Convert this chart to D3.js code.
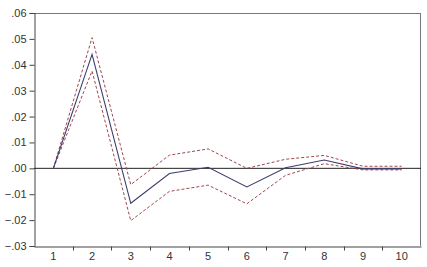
<!DOCTYPE html>
<html>
<head>
<meta charset="utf-8">
<script src="https://cdn.jsdelivr.net/npm/d3@7"></script>
<style>
  body { margin: 0; background: #fff; }
  .tick text { font-family: Arial, "Liberation Sans", sans-serif; font-size: 11px; fill: #333; }
</style>
</head>
<body>
<div class="chart"></div>
<script>
// periods and impulse response with +/- 2 s.e. bands
const periods = [1, 2, 3, 4, 5, 6, 7, 8, 9, 10];
const response = [0, 0.044, -0.0135, -0.002, 0.0004, -0.0072, 0.0002, 0.0032, -0.0002, -0.0002];
const upper = [0, 0.0505, -0.0063, 0.0051, 0.0075, 0, 0.0035, 0.005, 0.0008, 0.0008];
const lower = [0, 0.0376, -0.0202, -0.0089, -0.0065, -0.0137, -0.0027, 0.0018, -0.0006, -0.0006];
const yTicks = [-0.03, -0.02, -0.01, 0, 0.01, 0.02, 0.03, 0.04, 0.05, 0.06];

const W = 427, H = 267;
const margin = { top: 13, right: 6, bottom: 21, left: 34 };
const width = W - margin.left - margin.right;
const height = H - margin.top - margin.bottom;

const svg = d3.select('.chart')
	.append('svg')
	.attr('width', W)
	.attr('height', H)
	.append('g')
	.attr('transform', `translate(${margin.left}, ${margin.top})`);

const x = d3.scaleBand()
	.domain(periods)
	.range([0, width]);

const y = d3.scaleLinear()
	.domain([-0.03, 0.06])
	.range([height, 0]);

// frame: top and right lines lighter
svg.append('line')
	.attr('x1', 0).attr('x2', width).attr('y1', 0.5).attr('y2', 0.5)
	.attr('stroke', '#777');
svg.append('line')
	.attr('x1', width - 0.5).attr('x2', width - 0.5).attr('y1', 0).attr('y2', height)
	.attr('stroke', '#777');

// y axis
const fmt = (d) => d3.format('.2f')(d).replace('0.', '.');
svg.append('g')
	.attr('transform', 'translate(0.5, 0)')
	.call(d3.axisLeft(y).tickValues(yTicks).tickFormat(fmt).tickSize(5).tickPadding(3))
	.call((g) => g.selectAll('line, path').attr('stroke', '#444'));

// x axis, ticks sit on the boundaries between periods
const xAxis = svg.append('g')
	.attr('transform', `translate(0, ${height + 0.5})`)
	.call(d3.axisBottom(x).tickSizeInner(0).tickSizeOuter(0).tickPadding(6))
	.call((g) => g.select('path').attr('stroke', '#444'));

xAxis.selectAll('.sep')
	.data(periods.slice(1))
	.enter()
	.append('line')
	.attr('class', 'sep')
	.attr('x1', (d) => Math.round(x(d)) + 0.5)
	.attr('x2', (d) => Math.round(x(d)) + 0.5)
	.attr('y1', 0)
	.attr('y2', 4)
	.attr('stroke', '#444');

// zero line
svg.append('line')
	.attr('x1', 0).attr('x2', width)
	.attr('y1', y(0)).attr('y2', y(0))
	.attr('stroke', '#222');

const line = d3.line()
	.x((d, i) => x(periods[i]) + x.bandwidth() / 2)
	.y((d) => y(d));

// bands
[upper, lower].forEach((band) => {
	svg.append('path')
		.datum(band)
		.attr('d', line)
		.attr('fill', 'none')
		.attr('stroke', '#a0474f')
		.attr('stroke-width', 1)
		.attr('stroke-dasharray', '3,2');
});

svg.append('path')
	.datum(response)
	.attr('d', line)
	.attr('fill', 'none')
	.attr('stroke', '#3b3f6e')
	.attr('stroke-width', 1.1);
</script>
</body>
</html>
